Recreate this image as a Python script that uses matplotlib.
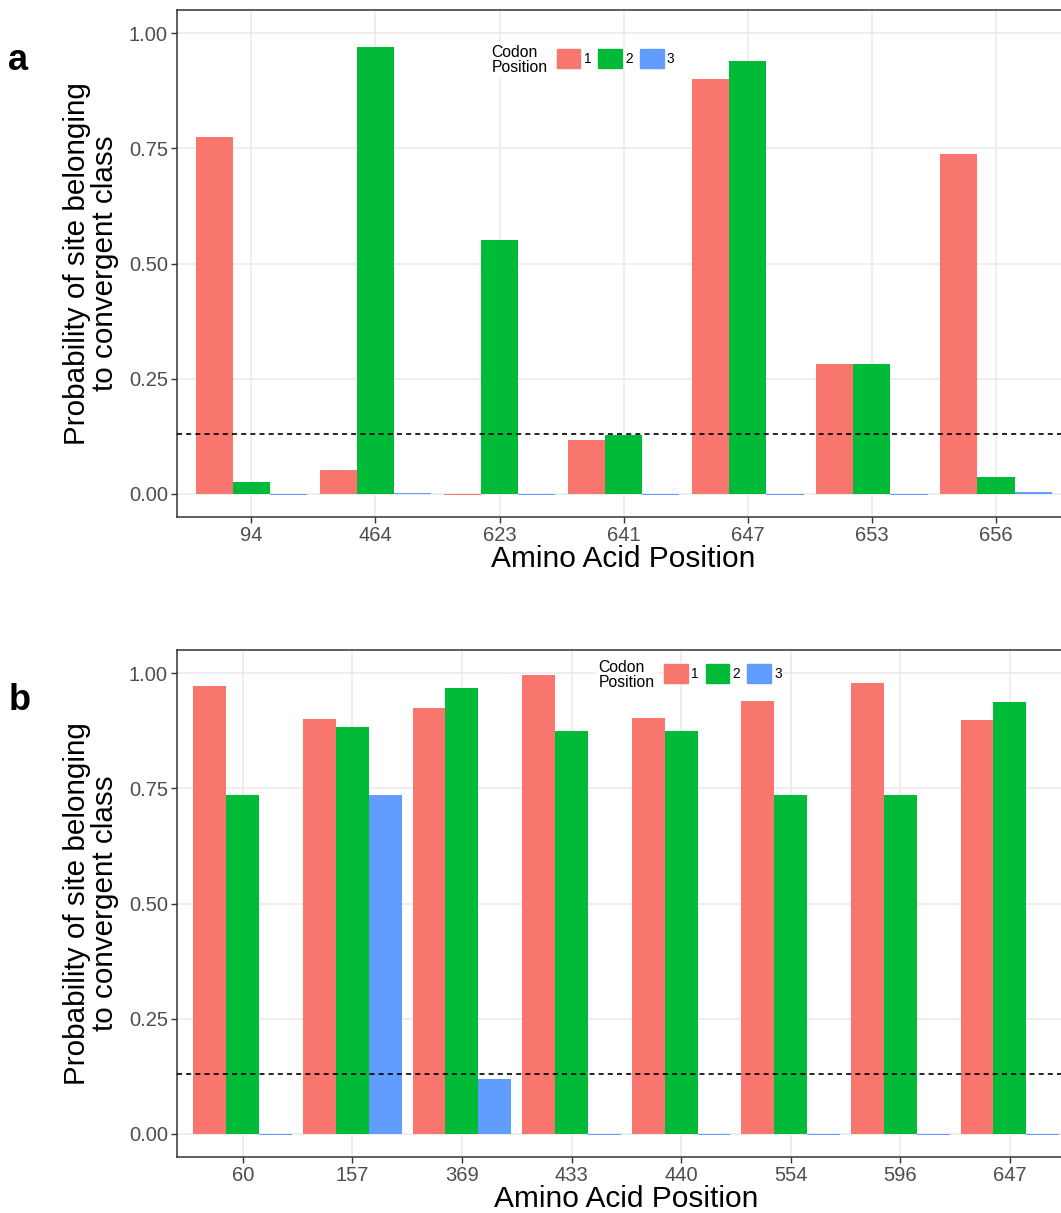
import numpy as np
import matplotlib.pyplot as plt
from matplotlib.patches import Patch

plt.rcParams['font.family'] = ['Liberation Sans', 'DejaVu Sans']

# panel a
pos_a = ['94', '464', '623', '641', '647', '653', '656']
c1_a = [0.774, 0.052, -0.003, 0.117, 0.900, 0.282, 0.738]
c2_a = [0.026, 0.970, 0.551, 0.128, 0.939, 0.282, 0.037]
c3_a = [-0.003, 0.002, -0.003, -0.003, -0.003, -0.003, 0.004]

# panel b
pos_b = ['60', '157', '369', '433', '440', '554', '596', '647']
c1_b = [0.972, 0.900, 0.924, 0.996, 0.903, 0.939, 0.978, 0.898]
c2_b = [0.736, 0.883, 0.968, 0.874, 0.874, 0.736, 0.736, 0.937]
c3_b = [-0.003, 0.736, 0.119, -0.003, -0.003, -0.003, -0.003, -0.003]

cutoff = 0.13
codon_labels = ['1', '2', '3']
colors = ['#F8766D', '#00BA38', '#619CFF']


def panel(fig, rect, positions, series, letter, leg_x, leg_y):
	ax = fig.add_axes(rect)
	n = len(positions)
	x = np.arange(1, n + 1)
	w = 0.3
	for k, vals in enumerate(series):
		ax.bar(x + (k - 1) * w, vals, width=w, color=colors[k], zorder=3)
	ax.axhline(cutoff, color='black', ls=(0, (3, 2.5)), lw=1.2, zorder=4)
	ax.set_xlim(0.4, n + 0.6)
	ax.set_ylim(-0.05, 1.05)
	ax.set_xticks(x)
	ax.set_xticklabels(positions)
	ax.set_yticks([0, 0.25, 0.5, 0.75, 1.0])
	ax.set_yticklabels(['0.00', '0.25', '0.50', '0.75', '1.00'])
	ax.tick_params(axis='both', which='major', labelsize=14.5, labelcolor='#4D4D4D',
				   color='#333333', length=4, width=1, pad=2.5)
	ax.grid(True, which='major', color='#EBEBEB', lw=1.2, zorder=0)
	ax.set_axisbelow(True)
	for s in ax.spines.values():
		s.set_color('#333333')
		s.set_linewidth(1.1)
	ax.set_xlabel('Amino Acid Position', fontsize=21.5, labelpad=0)
	ax.set_ylabel('Probability of site belonging\nto convergent class', fontsize=21.3,
				  linespacing=1.0, labelpad=7)
	fig.text(0.008, rect[1] + rect[3] * 0.9, letter, fontsize=26, fontweight='bold',
			 va='center', ha='left')
	ax.text(leg_x, leg_y, 'Codon\nPosition', transform=ax.transAxes, fontsize=11.3,
			va='center', ha='left', linespacing=1.0, zorder=6,
			bbox=dict(facecolor='white', edgecolor='none', pad=2))
	handles = [Patch(color=colors[k], label=codon_labels[k]) for k in range(3)]
	leg = ax.legend(handles=handles, ncol=3, loc='center left',
					bbox_to_anchor=(leg_x + 0.0715, leg_y + 0.003),
					frameon=True, fontsize=9.8, handlelength=1.75, handleheight=1.75,
					handletextpad=0.25, columnspacing=0.5, borderpad=0.1, borderaxespad=0)
	leg.get_frame().set_facecolor('white')
	leg.get_frame().set_edgecolor('none')
	leg.get_frame().set_alpha(1)
	return ax


fig = plt.figure(figsize=(10.61, 12.13), dpi=100)
panel(fig, [0.1668, 1 - 517 / 1213, 0.842, 507 / 1213], pos_a, [c1_a, c2_a, c3_a], 'a',
	  0.352, 0.902)
panel(fig, [0.1668, 1 - 1157 / 1213, 0.847, 507 / 1213], pos_b, [c1_b, c2_b, c3_b], 'b',
	  0.469, 0.951)
fig.savefig('out.png', dpi=100)
